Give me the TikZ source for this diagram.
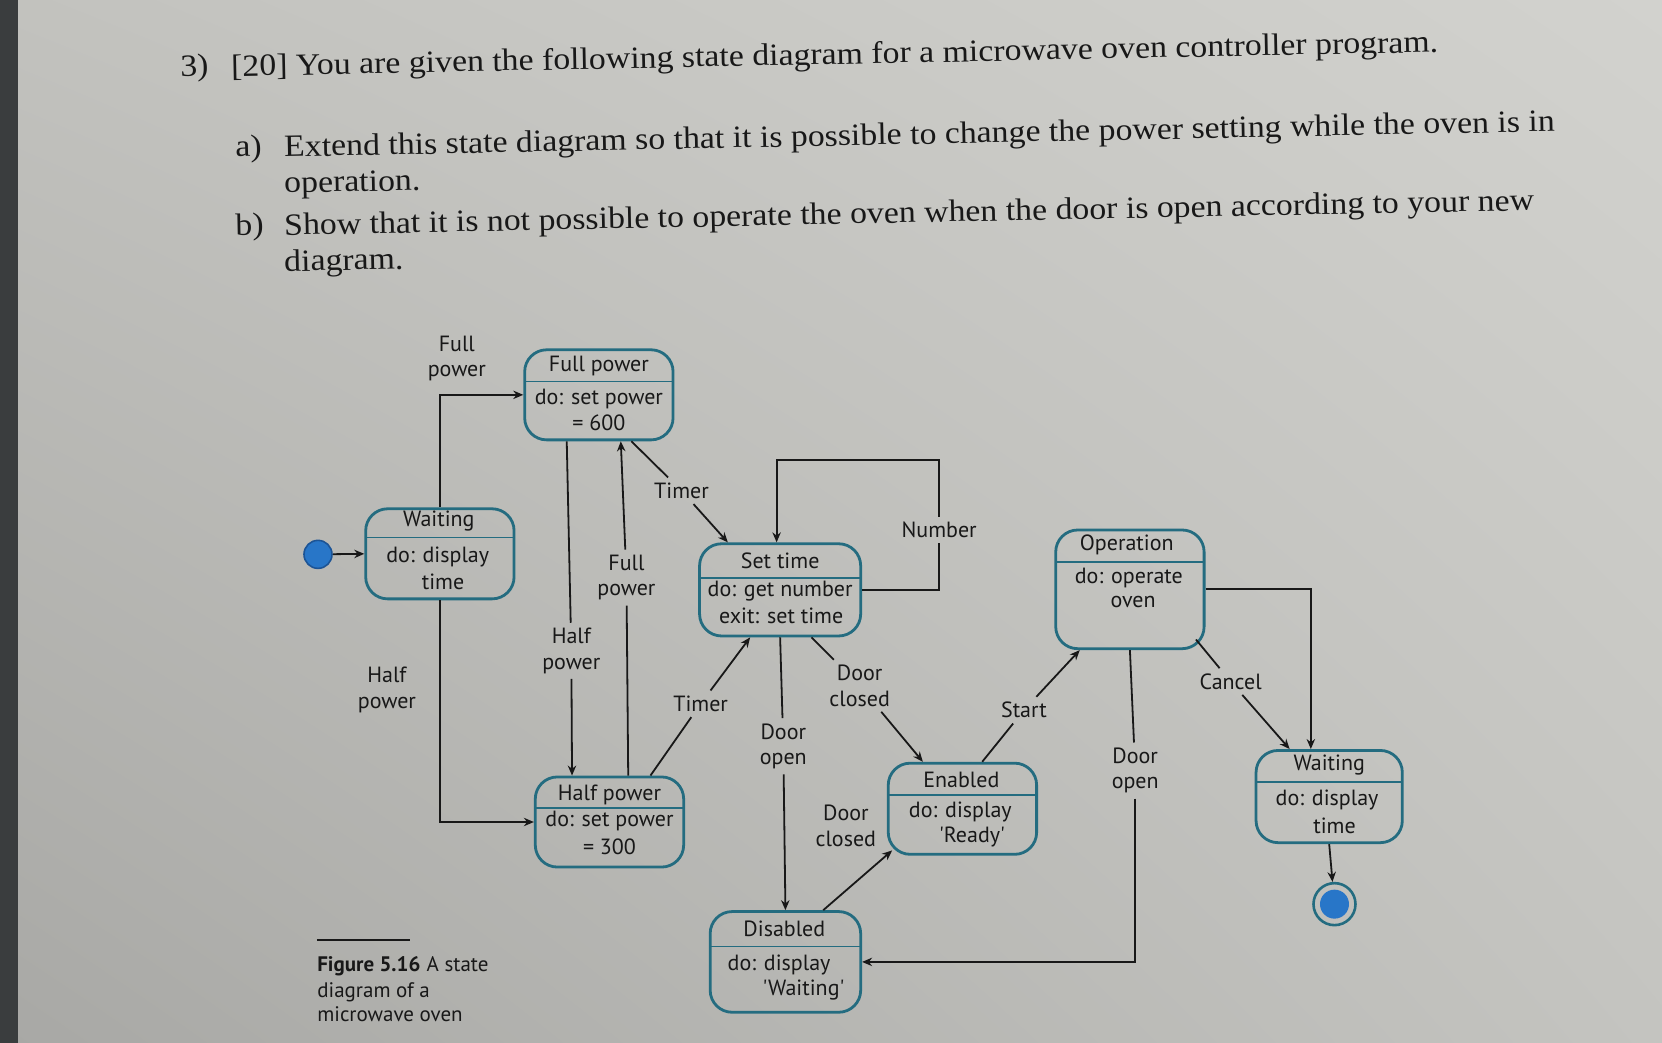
\documentclass[tikz,border=0pt]{standalone}
\usepackage{fontspec}
\setmainfont{Liberation Serif}
\newfontfamily\qfont[FakeStretch=1.09]{Liberation Serif}
\newfontfamily\dfont{PT Sans}
\usetikzlibrary{arrows.meta,calc,fit,shadings}
\definecolor{ink}{RGB}{24,24,24}
\definecolor{boxc}{RGB}{36,108,128}
\definecolor{dotc}{RGB}{40,118,200}
\definecolor{dotb}{RGB}{28,84,150}
\definecolor{bgUL}{RGB}{194,194,190}
\definecolor{bgUR}{RGB}{210,210,206}
\definecolor{bgLL}{RGB}{168,168,165}
\definecolor{bgLR}{RGB}{196,196,192}
\definecolor{bezel}{RGB}{58,61,62}
\begin{document}
\begin{tikzpicture}[x=0.53pt,y=-0.53pt,
  statebox/.style={draw=boxc, line width=1.4pt, rounded corners=11pt, inner sep=0pt},
  sepline/.style={draw=boxc, line width=0.9pt},
  stxt/.style={font=\dfont\fontsize{11}{12.5}\selectfont, text=ink, inner sep=1pt},
  lbl/.style={font=\dfont\fontsize{11}{12.7}\selectfont, text=ink, align=center, inner sep=2.5pt},
  ln/.style={draw=ink, line width=0.9pt},
  arr/.style={draw=ink, line width=0.9pt, -{Stealth[length=5pt,width=4.2pt]}},
  qtxt/.style={font=\qfont\fontsize{15.5}{18}\selectfont, text=ink, anchor=base west, rotate=1.15, inner sep=0pt},
  captxt/.style={font=\dfont\fontsize{10.5}{12.5}\selectfont, text=ink, anchor=base west, inner sep=0pt}]
\useasboundingbox (0,0) rectangle (1568,984);
\shade[upper left=bgUL, upper right=bgUR, lower left=bgLL, lower right=bgLR] (0,0) rectangle (1568,984);
\fill[bezel] (0,0) rectangle (17,984);

% question text
\node[qtxt] (q3) at (170,72) {3)};
\node[qtxt] (q1) at (218,72) {[20] You are given the following state diagram for a microwave oven controller program.};
\node[qtxt] (qa) at (222,148) {a)};
\node[qtxt] (qa1) at (268,148) {Extend this state diagram so that it is possible to change the power setting while the oven is in};
\node[qtxt] (qa2) at (268,182) {operation.};
\node[qtxt] (qb) at (222,222) {b)};
\node[qtxt] (qb1) at (268,222) {Show that it is not possible to operate the oven when the door is open according to your new};
\node[qtxt] (qb2) at (268,256) {diagram.};

% states
\node[statebox, fit={(345,480)(485,565)}] (wl) {};
\draw[sepline] (345,507) -- (485,507);
\node[stxt] (wlT) at (414,492) {Waiting};
\node[stxt] (wlB1) at (413,525) {do: display};
\node[stxt] (wlB2) at (418,549) {time};

\node[statebox, fit={(495,330)(635,415)}] (fp) {};
\draw[sepline] (495,360) -- (635,360);
\node[stxt] (fpT) at (565,345) {Full power};
\node[stxt] (fpB1) at (565,376) {do: set power};
\node[stxt] (fpB2) at (565,399) {= 600};

\node[statebox, fit={(505,733)(645,818)}] (hp) {};
\draw[sepline] (505,762) -- (645,762);
\node[stxt] (hpT) at (575,750) {Half power};
\node[stxt] (hpB1) at (575,775) {do: set power};
\node[stxt] (hpB2) at (575,799) {= 300};

\node[statebox, fit={(660,513)(812,600)}] (st) {};
\draw[sepline] (660,545) -- (812,545);
\node[stxt] (stT) at (736,529) {Set time};
\node[stxt] (stB1) at (736,558) {do: get number};
\node[stxt] (stB2) at (737,581) {exit: set time};

\node[statebox, fit={(838,720)(978,806)}] (en) {};
\draw[sepline] (838,750) -- (978,750);
\node[stxt] (enT) at (907,736) {Enabled};
\node[stxt] (enB1) at (906,766) {do: display};
\node[stxt] (enB2) at (917,790) {'Ready'};

\node[statebox, fit={(670,860)(812,955)}] (di) {};
\draw[sepline] (670,893) -- (812,893);
\node[stxt] (diT) at (740,876) {Disabled};
\node[stxt] (diB1) at (735,910) {do: display};
\node[stxt] (diB2) at (758,934) {'Waiting'};

\node[statebox, fit={(996,500)(1136,612)}] (op) {};
\draw[sepline] (996,530) -- (1136,530);
\node[stxt] (opT) at (1063,514) {Operation};
\node[stxt] (opB1) at (1065,545) {do: operate};
\node[stxt] (opB2) at (1069,568) {oven};

\node[statebox, fit={(1185,708)(1323,795)}] (wr) {};
\draw[sepline] (1185,738) -- (1323,738);
\node[stxt] (wrT) at (1254,722) {Waiting};
\node[stxt] (wrB1) at (1252,755) {do: display};
\node[stxt] (wrB2) at (1259,779) {time};

% initial and final
\node[circle, fill=dotc, draw=dotb, line width=0.8pt, minimum size=14pt, inner sep=0pt] (ini) at (300,523) {};
\node[circle, draw=boxc, line width=1.3pt, minimum size=21pt, inner sep=0pt] (fin) at (1259,853) {};
\node[circle, fill=dotc, minimum size=14.5pt, inner sep=0pt] (finI) at (1259,853) {};

% transitions
\draw[arr] (ini) -- (wl.west);

\draw[arr] (wl.north) |- (fp.west);
\node[lbl] (lFull1) at (431,338) {Full\\power};

\draw[arr] (wl.south) |- (hp.west);
\node[lbl] (lHalf1) at (365,651) {Half\\power};

\node[lbl] (lHalf2) at (539,614) {Half\\power};
\draw[ln] ($(fp.south west)+(41,0)$) -- (lHalf2);
\draw[arr] (lHalf2) -- ($(hp.north west)+(36,0)$);

\node[lbl] (lFull2) at (591,545) {Full\\power};
\draw[ln] ($(hp.north west)+(89,0)$) -- (lFull2);
\draw[arr] (lFull2) -- ($(fp.south west)+(92,0)$);

\node[lbl] (lTim1) at (643,463) {Timer};
\draw[ln] ($(fp.south west)+(102,0)$) -- (lTim1);
\draw[arr] (lTim1) -- ($(st.north west)+(28,0)$);

\node[lbl] (lTim2) at (661,664) {Timer};
\draw[ln] ($(hp.north west)+(110,0)$) -- (lTim2);
\draw[arr] (lTim2) -- ($(st.south west)+(49,0)$);

\node[lbl] (lNum) at (886,500) {Number};
\draw[ln] (st.east) -| (lNum.south);
\draw[arr] (lNum.north) |- ($(st.north west)+(74,-78)$) -- ($(st.north west)+(74,0)$);

\node[lbl] (lDO1) at (739,704) {Door\\open};
\draw[ln] (st.south) -- (lDO1);
\draw[arr] (lDO1) -- (di.north);

\node[lbl] (lDC1) at (811,647) {Door\\closed};
\draw[ln] ($(st.south west)+(107,0)$) -- (lDC1);
\draw[arr] (lDC1) -- ($(en.north west)+(34,0)$);

\draw[arr] ($(di.north west)+(108,0)$) -- ($(en.south west)+(5,-5)$);
\node[lbl] (lDC2) at (798,779) {Door\\closed};

\node[lbl] (lStart) at (966,670) {Start};
\draw[ln] ($(en.north west)+(90,0)$) -- (lStart);
\draw[arr] (lStart) -- ($(op.south west)+(24,0)$);

\node[lbl] (lDO2) at (1071,727) {Door\\open};
\draw[ln] (op.south) -- (lDO2);
\draw[arr] (lDO2) |- (di.east);

\draw[arr] (op.east) -| ($(wr.north west)+(53,0)$);

\node[lbl] (lCan) at (1161,643) {Cancel};
\draw[ln] ($(op.south east)+(-9,-10)$) -- (lCan);
\draw[arr] (lCan) -- ($(wr.north west)+(33,0)$);

\draw[arr] (wr.south) -- (fin);

% caption
\draw[ink, line width=0.8pt] (299,887) -- (387,887);
\node[captxt] (c1) at (299,917) {\textbf{Figure 5.16}\hspace{0.3em}A state};
\node[captxt] (c2) at (299,941) {diagram of a};
\node[captxt] (c3) at (299,964) {microwave oven};
\end{tikzpicture}
\end{document}
